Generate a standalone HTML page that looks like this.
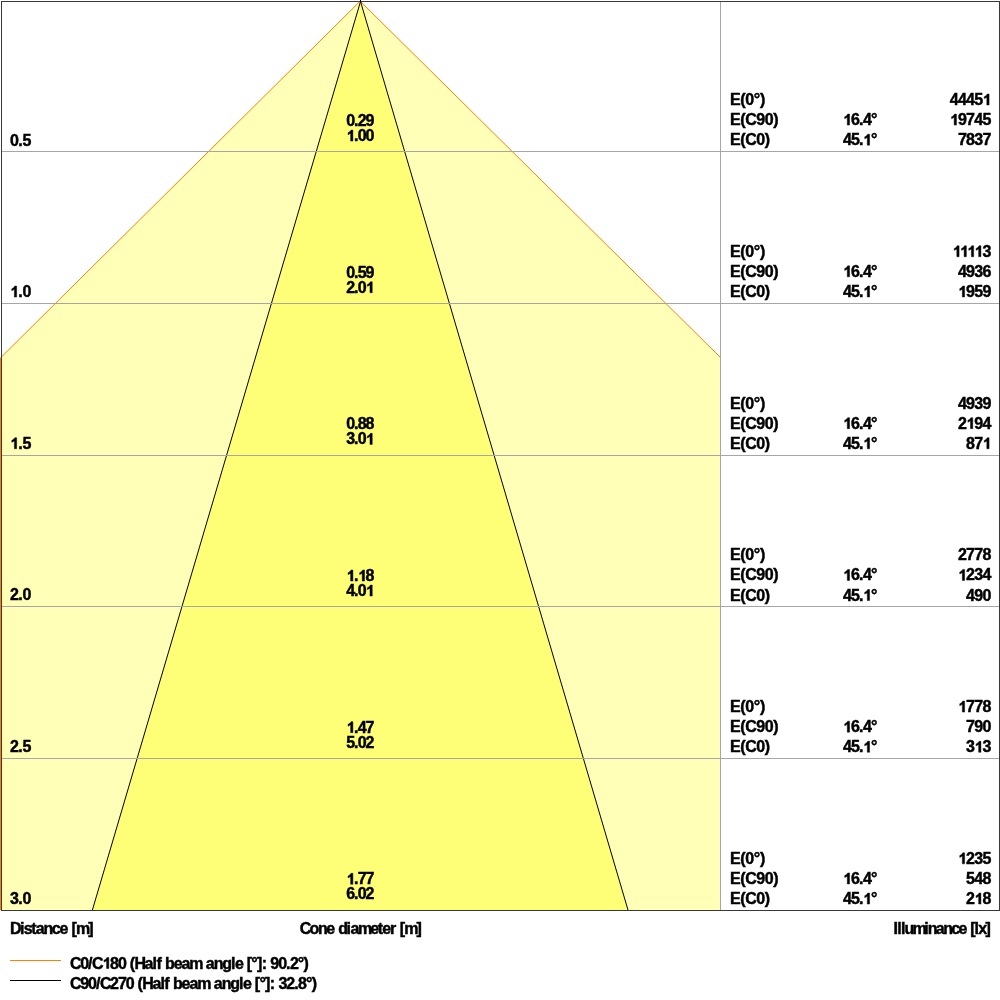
<!DOCTYPE html>
<html><head><meta charset="utf-8"><style>
html,body{margin:0;padding:0;background:#fff;}
body{width:1000px;height:1000px;overflow:hidden;position:relative;}
svg{position:absolute;left:0;top:0;will-change:transform;}
text{font-family:"Liberation Sans",sans-serif;font-weight:bold;font-size:16px;fill:#000;stroke:#000;stroke-width:0.45px;font-kerning:none;}
</style></head><body>
<svg width="1000" height="1000" viewBox="0 0 1000 1000">
<defs><path id="one" d="M560,0L560,1000Q400,880 230,820L230,1070Q380,1130 480,1230Q570,1320 610,1409L850,1409L850,0Z" transform="scale(0.0078125,-0.0078125)" fill="#000" stroke="#000" stroke-width="57.6"/></defs>
<polygon points="359.8,1.5 360.5,1.5 720,357.5 720,910 0,910 0,357.8 1.4,357" fill="#FFFFB7"/>
<polygon points="360.5,1.5 92.4,910 628,910" fill="#FFFF77"/>
<path d="M0.5,910L0.5,357.8L1.4,357L359.8,1.5L360.5,1.5L720.5,357.5" fill="none" stroke="#FF8000" stroke-width="1"/>
<polyline points="92.4,910 360.5,1.5 628,910" fill="none" stroke="#000" stroke-width="1"/>
<rect x="1" y="151" width="998" height="1" fill="#A6A6A6"/>
<rect x="1" y="303" width="998" height="1" fill="#A6A6A6"/>
<rect x="1" y="455" width="998" height="1" fill="#A6A6A6"/>
<rect x="1" y="606" width="998" height="1" fill="#A6A6A6"/>
<rect x="1" y="758" width="998" height="1" fill="#A6A6A6"/>
<rect x="720" y="1" width="1" height="909" fill="#A6A6A6"/>
<rect x="1" y="1" width="998" height="1" fill="#383838"/>
<rect x="1" y="910" width="998" height="1" fill="#383838"/>
<rect x="1" y="1" width="1" height="910" fill="#383838"/>
<rect x="999" y="1" width="1" height="910" fill="#383838"/>
<rect x="360" y="0" width="1" height="2" fill="#000"/>
<rect x="10" y="960" width="51" height="1" fill="#FF8000"/>
<rect x="10" y="980" width="51" height="1" fill="#000"/>
<g>
<text x="10.00 18.28 22.41" y="145.50">0.5</text>
<text x="346.25 354.00 357.86 365.60" y="126.10">0.29</text>
<text x="354.00 357.86 365.60" y="141.10">.00</text>
<text x="730.00 740.19 745.28 753.78 759.89" y="105.00">E(0°)</text>
<text x="730.00 740.19 745.28 756.31 764.81 773.31" y="125.10">E(C90)</text>
<text x="730.00 740.19 745.28 756.31 764.81" y="145.20">E(C0)</text>
<text x="850.92 858.93 862.93 870.94" y="125.10">6.4°</text>
<text x="842.91 850.92 858.93 870.94" y="145.20">45.°</text>
<text x="949.80 957.96 966.12 974.28" y="105.00">4445</text>
<text x="957.96 966.12 974.28 982.44" y="125.10">9745</text>
<text x="957.96 966.12 974.28 982.44" y="145.20">7837</text>
<text x="18.28 22.41" y="297.10">.0</text>
<text x="346.25 354.00 357.86 365.60" y="277.74">0.59</text>
<text x="346.25 354.00 357.86" y="292.74">2.0</text>
<text x="730.00 740.19 745.28 753.78 759.89" y="256.77">E(0°)</text>
<text x="730.00 740.19 745.28 756.31 764.81 773.31" y="276.87">E(C90)</text>
<text x="730.00 740.19 745.28 756.31 764.81" y="296.97">E(C0)</text>
<text x="850.92 858.93 862.93 870.94" y="276.87">6.4°</text>
<text x="842.91 850.92 858.93 870.94" y="296.97">45.°</text>
<text x="982.44" y="256.77">3</text>
<text x="957.96 966.12 974.28 982.44" y="276.87">4936</text>
<text x="966.12 974.28 982.44" y="296.97">959</text>
<text x="18.28 22.41" y="448.70">.5</text>
<text x="346.25 354.00 357.86 365.60" y="429.38">0.88</text>
<text x="346.25 354.00 357.86" y="444.38">3.0</text>
<text x="730.00 740.19 745.28 753.78 759.89" y="408.54">E(0°)</text>
<text x="730.00 740.19 745.28 756.31 764.81 773.31" y="428.64">E(C90)</text>
<text x="730.00 740.19 745.28 756.31 764.81" y="448.74">E(C0)</text>
<text x="850.92 858.93 862.93 870.94" y="428.64">6.4°</text>
<text x="842.91 850.92 858.93 870.94" y="448.74">45.°</text>
<text x="957.96 966.12 974.28 982.44" y="408.54">4939</text>
<text x="957.96 974.28 982.44" y="428.64">294</text>
<text x="966.12 974.28" y="448.74">87</text>
<text x="10.00 18.28 22.41" y="600.30">2.0</text>
<text x="354.00 365.60" y="581.02">.8</text>
<text x="346.25 354.00 357.86" y="596.02">4.0</text>
<text x="730.00 740.19 745.28 753.78 759.89" y="560.31">E(0°)</text>
<text x="730.00 740.19 745.28 756.31 764.81 773.31" y="580.41">E(C90)</text>
<text x="730.00 740.19 745.28 756.31 764.81" y="600.51">E(C0)</text>
<text x="850.92 858.93 862.93 870.94" y="580.41">6.4°</text>
<text x="842.91 850.92 858.93 870.94" y="600.51">45.°</text>
<text x="957.96 966.12 974.28 982.44" y="560.31">2778</text>
<text x="966.12 974.28 982.44" y="580.41">234</text>
<text x="966.12 974.28 982.44" y="600.51">490</text>
<text x="10.00 18.28 22.41" y="751.90">2.5</text>
<text x="354.00 357.86 365.60" y="732.66">.47</text>
<text x="346.25 354.00 357.86 365.60" y="747.66">5.02</text>
<text x="730.00 740.19 745.28 753.78 759.89" y="712.08">E(0°)</text>
<text x="730.00 740.19 745.28 756.31 764.81 773.31" y="732.18">E(C90)</text>
<text x="730.00 740.19 745.28 756.31 764.81" y="752.28">E(C0)</text>
<text x="850.92 858.93 862.93 870.94" y="732.18">6.4°</text>
<text x="842.91 850.92 858.93 870.94" y="752.28">45.°</text>
<text x="966.12 974.28 982.44" y="712.08">778</text>
<text x="966.12 974.28 982.44" y="732.18">790</text>
<text x="966.12 982.44" y="752.28">33</text>
<text x="10.00 18.28 22.41" y="903.50">3.0</text>
<text x="354.00 357.86 365.60" y="884.30">.77</text>
<text x="346.25 354.00 357.86 365.60" y="899.30">6.02</text>
<text x="730.00 740.19 745.28 753.78 759.89" y="863.85">E(0°)</text>
<text x="730.00 740.19 745.28 756.31 764.81 773.31" y="883.95">E(C90)</text>
<text x="730.00 740.19 745.28 756.31 764.81" y="904.05">E(C0)</text>
<text x="850.92 858.93 862.93 870.94" y="883.95">6.4°</text>
<text x="842.91 850.92 858.93 870.94" y="904.05">45.°</text>
<text x="966.12 974.28 982.44" y="863.85">235</text>
<text x="966.12 974.28 982.44" y="883.95">548</text>
<text x="966.12 982.44" y="904.05">28</text>
<text x="10.00 19.88 23.68 31.29 35.84 43.45 51.81 59.42 67.02 71.43 75.98 88.14" y="933.50">Distance [m]</text>
<text x="299.65 309.53 317.89 326.24 333.85 338.25 346.61 350.41 358.02 370.18 377.79 382.34 389.95 395.27 399.68 404.23 416.39" y="933.80">Cone diameter [m]</text>
<text x="893.60 897.24 900.89 904.53 912.55 924.21 927.86 935.87 943.17 951.18 958.48 965.77 970.22 974.59 978.23 985.53" y="933.50">Illuminance [lx]</text>
<text x="70.00 80.20 88.06 91.99 110.05 117.90 125.76 129.69 134.39 144.59 152.45 156.38 161.08 165.01 173.64 181.49 189.35 201.91 205.84 213.69 222.32 230.95 234.88 242.74 246.66 251.37 257.02 261.72 266.43 270.35 278.21 286.07 289.99 297.85 303.50" y="968.50">C0/C80 (Half beam angle [°]: 90.2°)</text>
<text x="70.00 80.21 88.08 95.95 99.88 110.09 117.96 125.82 133.69 137.62 142.33 152.54 160.41 164.34 169.05 172.98 181.62 189.49 197.35 209.93 213.86 221.72 230.36 239.00 242.93 250.80 254.73 259.44 265.09 269.80 274.51 278.44 286.31 294.18 298.11 305.97 311.63" y="988.50">C90/C270 (Half beam angle [°]: 32.8°)</text>
<use href="#one" x="346.25" y="141.10"/>
<use href="#one" x="842.91" y="125.10"/>
<use href="#one" x="862.93" y="145.20"/>
<use href="#one" x="982.44" y="105.00"/>
<use href="#one" x="949.80" y="125.10"/>
<use href="#one" x="10.00" y="297.10"/>
<use href="#one" x="365.60" y="292.74"/>
<use href="#one" x="842.91" y="276.87"/>
<use href="#one" x="862.93" y="296.97"/>
<use href="#one" x="952.45" y="256.77"/>
<use href="#one" x="959.73" y="256.77"/>
<use href="#one" x="967.00" y="256.77"/>
<use href="#one" x="974.28" y="256.77"/>
<use href="#one" x="957.96" y="296.97"/>
<use href="#one" x="10.00" y="448.70"/>
<use href="#one" x="365.60" y="444.38"/>
<use href="#one" x="842.91" y="428.64"/>
<use href="#one" x="862.93" y="448.74"/>
<use href="#one" x="966.12" y="428.64"/>
<use href="#one" x="982.44" y="448.74"/>
<use href="#one" x="346.25" y="581.02"/>
<use href="#one" x="357.86" y="581.02"/>
<use href="#one" x="365.60" y="596.02"/>
<use href="#one" x="842.91" y="580.41"/>
<use href="#one" x="862.93" y="600.51"/>
<use href="#one" x="957.96" y="580.41"/>
<use href="#one" x="346.25" y="732.66"/>
<use href="#one" x="842.91" y="732.18"/>
<use href="#one" x="862.93" y="752.28"/>
<use href="#one" x="957.96" y="712.08"/>
<use href="#one" x="974.28" y="752.28"/>
<use href="#one" x="346.25" y="884.30"/>
<use href="#one" x="842.91" y="883.95"/>
<use href="#one" x="862.93" y="904.05"/>
<use href="#one" x="957.96" y="863.85"/>
<use href="#one" x="974.28" y="904.05"/>
<use href="#one" x="102.19" y="968.50"/>
</g>
</svg>
</body></html>
